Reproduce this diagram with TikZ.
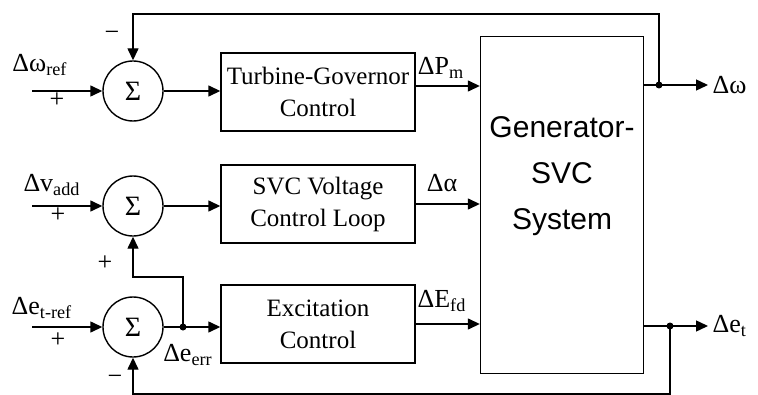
\documentclass[tikz,border=0pt]{standalone}
\usepackage{fontspec}
\setmainfont{Liberation Serif}
\newfontfamily\genfont{Liberation Sans}
\usetikzlibrary{arrows.meta,positioning,calc}

\begin{document}
\begin{tikzpicture}[x=0.5pt,y=-0.5pt,>={Triangle[length=6pt,width=5.5pt]},line width=0.7pt,
  sumnode/.style={draw,circle,minimum size=30pt,inner sep=0pt,font=\fontsize{14}{15}\selectfont},
  blk/.style={draw,minimum width=97pt,minimum height=39pt,align=center,inner sep=0pt,font=\fontsize{12.5}{16}\selectfont},
  lbl/.style={font=\fontsize{13}{15}\selectfont,inner sep=0pt},
  dot/.style={circle,fill,inner sep=0pt,minimum size=3.5pt}]
  \useasboundingbox (0,0) rectangle (758,395);
  % summing junctions
  \node[sumnode] (sw) at (133,91) {Σ};
  \node[sumnode] (sv) at (133,206) {Σ};
  \node[sumnode] (se) at (133,327) {Σ};
  % control blocks
  \node[blk] (turb) at (318,92) {Turbine-Governor\\Control};
  \node[blk] (svc) at (318,204) {SVC Voltage\\Control Loop};
  \node[blk] (exc) at (318,324) {Excitation\\Control};
  \node[draw,minimum width=81.5pt,minimum height=168.5pt] (gen) at (562,205) {};
  \node[align=center,font=\genfont\fontsize{15}{23}\selectfont] (gentxt) at (562,176) {Generator-\\SVC\\System};
  % reference inputs
  \coordinate (inw) at (32,91);
  \coordinate (inv) at (32,206);
  \coordinate (ine) at (32,327);
  \draw[->] (inw) -- (sw);
  \draw[->] (inv) -- (sv);
  \draw[->] (ine) -- (se);
  \node[lbl] (lw) at (40,65) {Δω\textsubscript{ref}};
  \node[lbl] (lv) at (52,185) {Δv\textsubscript{add}};
  \node[lbl] (le) at (42,308) {Δe\textsubscript{t-ref}};
  \node[lbl] (pw) at (57,100) {+};
  \node[lbl] (pv) at (58,215) {+};
  \node[lbl] (pe) at (58,340) {+};
  % forward path
  \draw[->] (sw.east) -- (sw.east -| turb.west);
  \draw[->] (sv.east) -- (sv.east -| svc.west);
  \draw[->] (se.east) -- (se.east -| exc.west);
  \draw[->] ([yshift=3pt]turb.east) -- ([yshift=3pt]turb.east -| gen.west);
  \draw[->] (svc.east) -- (svc.east -| gen.west);
  \draw[->] (exc.east) -- (exc.east -| gen.west);
  \node[lbl] (lpm) at (441,68) {ΔP\textsubscript{m}};
  \node[lbl] (lal) at (442,183) {Δα};
  \node[lbl] (lfd) at (442,301) {ΔE\textsubscript{fd}};
  % outputs
  \coordinate (bw) at (659,85);
  \coordinate (be) at (670,326);
  \node[lbl,anchor=west,inner sep=2pt] (dw) at (708,85) {Δω};
  \node[lbl,anchor=west,inner sep=2pt] (de) at (708,326) {Δe\textsubscript{t}};
  \draw (gen.east |- bw) -- (bw);
  \draw[->] (bw) -- (dw.west);
  \draw (gen.east |- be) -- (be);
  \draw[->] (be) -- (de.west);
  \node[dot] (bwd) at (bw) {};
  \node[dot] (bed) at (be) {};
  % feedback loops
  \draw[->] (bw) -- (bw |- 0,14) -| (sw.north);
  \draw[->] (be) -- (be |- 0,394) -| (se.south);
  \node[lbl] (mw) at (112,36) {−};
  \node[lbl] (me) at (115,380) {−};
  % error branch to SVC loop
  \coordinate (berr) at (183,327);
  \draw[->] (berr) -- (berr |- 0,277) -| (sv.south);
  \node[dot] (berrd) at (berr) {};
  \node[lbl] (pv2) at (105,263) {+};
  \node[lbl] (lerr) at (188,355) {Δe\textsubscript{err}};
\end{tikzpicture}
\end{document}
